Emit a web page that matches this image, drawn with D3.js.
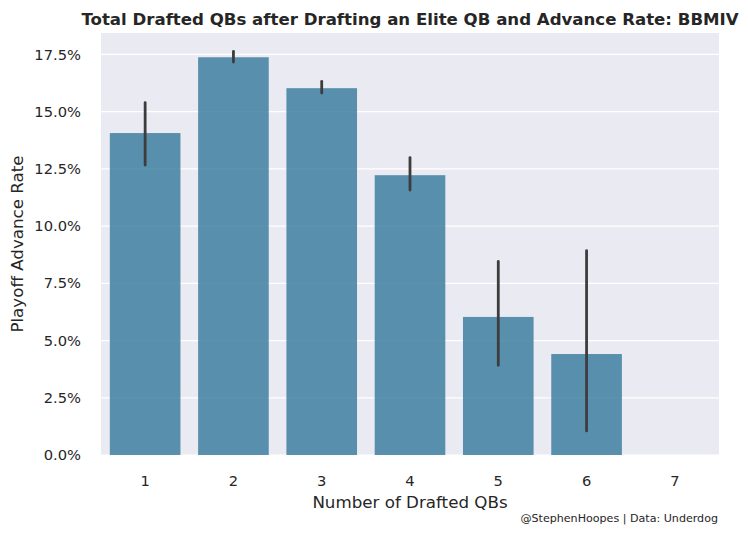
<!DOCTYPE html>
<html>
<head>
<meta charset="utf-8">
<script src="https://cdn.jsdelivr.net/npm/d3@7"></script>
<style>
  body { margin: 0; background: #fff; }
  text { font-family: "DejaVu Sans", sans-serif; fill: #262626; }
</style>
</head>
<body>
<script>
// Data
const categories = ["1", "2", "3", "4", "5", "6", "7"];
const advanceRate = [0.1406, 0.1737, 0.1602, 0.1222, 0.0603, 0.0441, 0];
const ciLow = [0.1266, 0.1716, 0.1581, 0.1157, 0.0392, 0.0105, null];
const ciHigh = [0.1539, 0.1763, 0.1632, 0.1299, 0.0845, 0.0892, null];
const yTicks = [0, 0.025, 0.05, 0.075, 0.1, 0.125, 0.15, 0.175];

const W = 748, H = 534;
const margin = { top: 33, right: 29, bottom: 79, left: 101 };
const width = W - margin.left - margin.right,
      height = H - margin.top - margin.bottom;

const svg = d3.select("body").append("svg")
    .attr("width", W)
    .attr("height", H);

const g = svg.append("g")
    .attr("transform", "translate(" + margin.left + "," + margin.top + ")");

const x = d3.scaleBand().domain(categories).range([0, width])
    .paddingInner(0.2).paddingOuter(0.1);
const y = d3.scaleLinear().domain([0, 0.1843]).range([height, 0]);

// background + grid
g.append("rect")
    .attr("width", width)
    .attr("height", height)
    .attr("fill", "#eaeaf2");

g.selectAll(".grid")
  .data(yTicks)
  .enter().append("line")
    .attr("x1", 0)
    .attr("x2", width)
    .attr("y1", d => y(d))
    .attr("y2", d => y(d))
    .attr("stroke", "#fff")
    .attr("stroke-width", 1.25);

// bars
g.selectAll(".bar")
  .data(advanceRate)
  .enter().append("rect")
    .attr("x", (d, i) => x(categories[i]))
    .attr("width", x.bandwidth())
    .attr("y", d => y(d))
    .attr("height", d => height - y(d))
    .attr("fill", "#3e7fa0")
    .attr("fill-opacity", 0.85);

// error bars
g.selectAll(".err")
  .data(categories.filter((c, i) => ciLow[i] != null))
  .enter().append("line")
    .attr("x1", d => x(d) + x.bandwidth() / 2)
    .attr("x2", d => x(d) + x.bandwidth() / 2)
    .attr("y1", d => y(ciLow[categories.indexOf(d)]))
    .attr("y2", d => y(ciHigh[categories.indexOf(d)]))
    .attr("stroke", "#3d3d3d")
    .attr("stroke-width", 2.8)
    .attr("stroke-linecap", "round");

// axes
const xAxis = g.append("g")
    .attr("transform", "translate(0," + height + ")")
    .call(d3.axisBottom(x).tickSize(0).tickPadding(21));
xAxis.select(".domain").remove();
xAxis.selectAll("text").style("font-size", "14.7px").attr("fill", "#262626");

const yAxis = g.append("g")
    .call(d3.axisLeft(y).tickValues(yTicks).tickFormat(d3.format(".1%")).tickSize(0).tickPadding(20));
yAxis.select(".domain").remove();
yAxis.selectAll("text").style("font-size", "14.7px").attr("fill", "#262626");

// labels
svg.append("text")
    .attr("x", margin.left + width / 2)
    .attr("y", 508)
    .attr("text-anchor", "middle")
    .style("font-size", "16.7px")
    .text("Number of Drafted QBs");

svg.append("text")
    .attr("transform", "translate(23," + (margin.top + height / 2) + ") rotate(-90)")
    .attr("text-anchor", "middle")
    .style("font-size", "16.7px")
    .text("Playoff Advance Rate");

svg.append("text")
    .attr("x", margin.left + width / 2)
    .attr("y", 25)
    .attr("text-anchor", "middle")
    .style("font-size", "16.6px")
    .style("font-weight", "bold")
    .text("Total Drafted QBs after Drafting an Elite QB and Advance Rate: BBMIV");

svg.append("text")
    .attr("x", 718)
    .attr("y", 522)
    .attr("text-anchor", "end")
    .style("font-size", "11.1px")
    .text("@StephenHoopes | Data: Underdog");
</script>
</body>
</html>
